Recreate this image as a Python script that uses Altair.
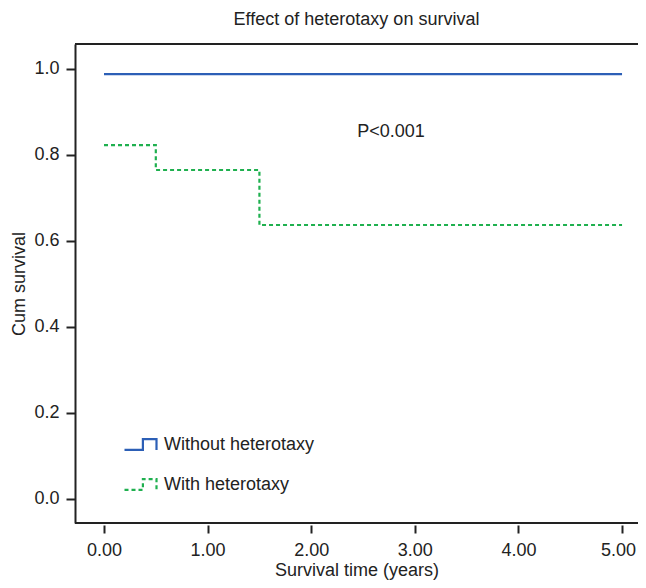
import altair as alt
import pandas as pd

groups = ["Without heterotaxy", "With heterotaxy"]
times_without = [0.0, 5.0]
surv_without = [0.988, 0.988]
times_with = [0.0, 0.5, 1.5, 5.0]
surv_with = [0.823, 0.765, 0.637, 0.637]
x_ticks = [0, 1, 2, 3, 4, 5]
y_ticks = [0.0, 0.2, 0.4, 0.6, 0.8, 1.0]
p_text = "P<0.001"

rows = []
for t, s in zip(times_without, surv_without):
    rows.append({"time": t, "surv": s, "group": groups[0]})
for t, s in zip(times_with, surv_with):
    rows.append({"time": t, "surv": s, "group": groups[1]})
df = pd.DataFrame(rows)

FONT = "Liberation Sans"
FS = 18
TXT = "#222"
W, H = 563, 479
xscale = alt.Scale(domain=[-0.28, 5.154], nice=False, zero=False)
yscale = alt.Scale(domain=[-0.056, 1.058], nice=False, zero=False)

step_path = "M-1,0.34 H0.15 V-0.34 H1 V0.34"

lines = alt.Chart(df).mark_line(interpolate="step-after", strokeWidth=2.2, clip=False).encode(
    x=alt.X("time:Q", scale=xscale,
            axis=alt.Axis(values=x_ticks, format=".2f", title="Survival time (years)",
                          domain=False, tickSize=8, offset=2, tickColor=TXT, tickWidth=2,
                          labelFontSize=FS, labelColor=TXT, labelPadding=8, labelFont=FONT,
                          labelOffset={"condition": {"test": "datum.value >= 5", "value": -4},
                                       "value": 0},
                          titleFont=FONT, titleFontSize=FS, titleFontWeight="normal",
                          titleColor=TXT, titlePadding=2, grid=False)),
    y=alt.Y("surv:Q", scale=yscale,
            axis=alt.Axis(values=y_ticks, format=".1f", title="Cum survival",
                          domain=True, domainColor=TXT, domainWidth=2, tickSize=9,
                          tickColor=TXT, tickWidth=2,
                          labelFontSize=FS, labelColor=TXT, labelPadding=7, labelFont=FONT,
                          titleFont=FONT, titleFontSize=FS, titleFontWeight="normal",
                          titleColor=TXT, titlePadding=5, grid=False)),
    color=alt.Color("group:N", scale=alt.Scale(domain=groups, range=["#2c5fb6", "#1fb04f"]),
                    legend=alt.Legend(title=None, orient="none", legendX=48, legendY=383,
                                      symbolType=step_path, symbolSize=1024,
                                      symbolStrokeWidth=2.2, symbolFillColor="transparent",
                                      labelFont=FONT, labelFontSize=FS, labelColor=TXT,
                                      rowPadding=12, labelOffset=6)),
    strokeDash=alt.StrokeDash("group:N", scale=alt.Scale(domain=groups, range=[[1, 0], [4, 3]]),
                              legend=None),
)

text_df = pd.DataFrame({"time": [2.77], "surv": [0.853], "label": [p_text]})
ptext = alt.Chart(text_df).mark_text(font=FONT, fontSize=FS, color=TXT).encode(
    x=alt.X("time:Q", scale=xscale), y=alt.Y("surv:Q", scale=yscale), text="label:N")

axis_df = pd.DataFrame({"a": [0]})
top_rule = alt.Chart(axis_df).mark_rule(color=TXT, strokeWidth=2).encode(
    x=alt.value(0), x2=alt.value(W), y=alt.value(0))
bottom_rule = alt.Chart(axis_df).mark_rule(color=TXT, strokeWidth=2).encode(
    x=alt.value(0), x2=alt.value(W), y=alt.value(H))

chart = alt.layer(lines, ptext, top_rule, bottom_rule).properties(
    width=W, height=H,
    title=alt.Title("Effect of heterotaxy on survival", font=FONT, fontSize=FS,
                    fontWeight="normal", color=TXT, anchor="middle", offset=14),
    autosize=alt.AutoSizeParams(type="none"),
    padding={"left": 67, "top": 36, "right": 0, "bottom": 57},
).configure_view(stroke=None)

chart.save("out.html", embed_options={"renderer": "svg", "actions": False})
